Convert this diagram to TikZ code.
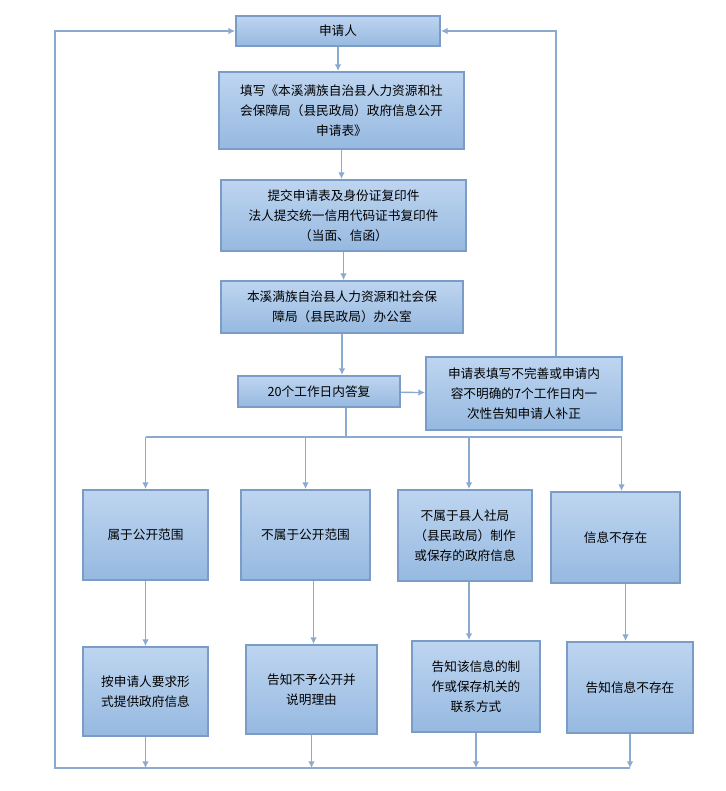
\documentclass[tikz,border=0pt]{standalone}
\usepackage{fontspec}
\setmainfont{Noto Sans CJK SC}
\usetikzlibrary{arrows.meta}
\def\u{0.75pt}
\definecolor{edge}{HTML}{7A9CC6}
\definecolor{wire}{HTML}{8AAAD0}
\tikzset{
  box/.style={draw=edge,line width=1.5pt,top color=blue!6!cyan!2!white!75!blue!25,
    top color={rgb,255:red,190;green,213;blue,240},bottom color={rgb,255:red,150;green,185;blue,224},
    align=center,font=\fontsize{9.5}{15}\selectfont,inner sep=2pt},
  link/.style={wire,line width=1pt,-{Latex[length=5pt,width=5pt]}},
  line/.style={wire,line width=1pt}
}
\begin{document}
\begin{tikzpicture}[x=\u,y=-\u]
    \useasboundingbox (0,0) rectangle (725,791);

    \node[box,minimum width=204*\u,minimum height=30*\u] (ren) at (338,31) {申请人};
    \node[box,minimum width=245*\u,minimum height=77*\u] (tb) at (341.5,110.5) {填写《本溪满族自治县人力资源和社\\会保障局（县民政局）政府信息公开\\申请表》};
    \node[box,minimum width=245*\u,minimum height=71*\u] (tj) at (343.5,215.5) {提交申请表及身份证复印件\\法人提交统一信用代码证书复印件\\（当面、信函）};
    \node[box,minimum width=242*\u,minimum height=52*\u] (bgs) at (342,307) {本溪满族自治县人力资源和社会保\\障局（县民政局）办公室};
    \node[box,minimum width=162*\u,minimum height=31*\u] (dq) at (319,391.5) {20个工作日内答复};
    \node[box,minimum width=196*\u,minimum height=73*\u] (bz) at (524,393.5) {申请表填写不完善或申请内\\容不明确的7个工作日内一\\次性告知申请人补正};

    \node[box,minimum width=125*\u,minimum height=90*\u] (a1) at (145.5,535) {属于公开范围};
    \node[box,minimum width=129*\u,minimum height=90*\u] (a2) at (305.5,535) {不属于公开范围};
    \node[box,minimum width=134*\u,minimum height=91*\u] (a3) at (465,535.5) {不属于县人社局\\（县民政局）制作\\或保存的政府信息};
    \node[box,minimum width=129*\u,minimum height=91*\u] (a4) at (615.5,537.5) {信息不存在};

    \node[box,minimum width=125*\u,minimum height=89*\u] (b1) at (145.5,691.5) {按申请人要求形\\式提供政府信息};
    \node[box,minimum width=131*\u,minimum height=89*\u] (b2) at (311.5,689.5) {告知不予公开并\\说明理由};
    \node[box,minimum width=128*\u,minimum height=91*\u] (b3) at (476,686.5) {告知该信息的制\\作或保存机关的\\联系方式};
    \node[box,minimum width=126*\u,minimum height=91*\u] (b4) at (630,687.5) {告知信息不存在};

    \coordinate (br) at (346,437);
    \coordinate (bl) at (55,768);

    % main column
    \draw[link] (ren) -- (ren.south |- tb.north);
    \draw[link] (tb) -- (tb.south |- tj.north);
    \draw[link] (tj) -- (tj.south |- bgs.north);
    \draw[link] (bgs.south) -- (bgs.south |- dq.north);
    \draw[link] (dq) -- (bz);
    \draw[link] ([xshift=32*\u]bz.north) |- (ren.east);

    % branches
    \draw[line] (dq.south -| br) -- (br);
    \draw[line] (a1.north |- br) -- ([xshift=6*\u]a4.north |- br);
    \foreach \n/\d in {a1/0,a2/0,a3/4,a4/6}
        \draw[link] ([xshift=\d*\u]\n.north |- br) -- ([xshift=\d*\u]\n.north);

    \foreach \n/\d in {1/0,2/8,3/4,4/10}
        \draw[link] ([xshift=\d*\u]a\n.south) -- ([xshift=\d*\u]a\n.south |- b\n.north);

    % return loop
    \foreach \n in {b1,b2,b3,b4}
        \draw[link] (\n.south) -- (\n.south |- bl);
    \draw[link] (b4.south |- bl) -- (bl) |- (ren.west);
\end{tikzpicture}
\end{document}
